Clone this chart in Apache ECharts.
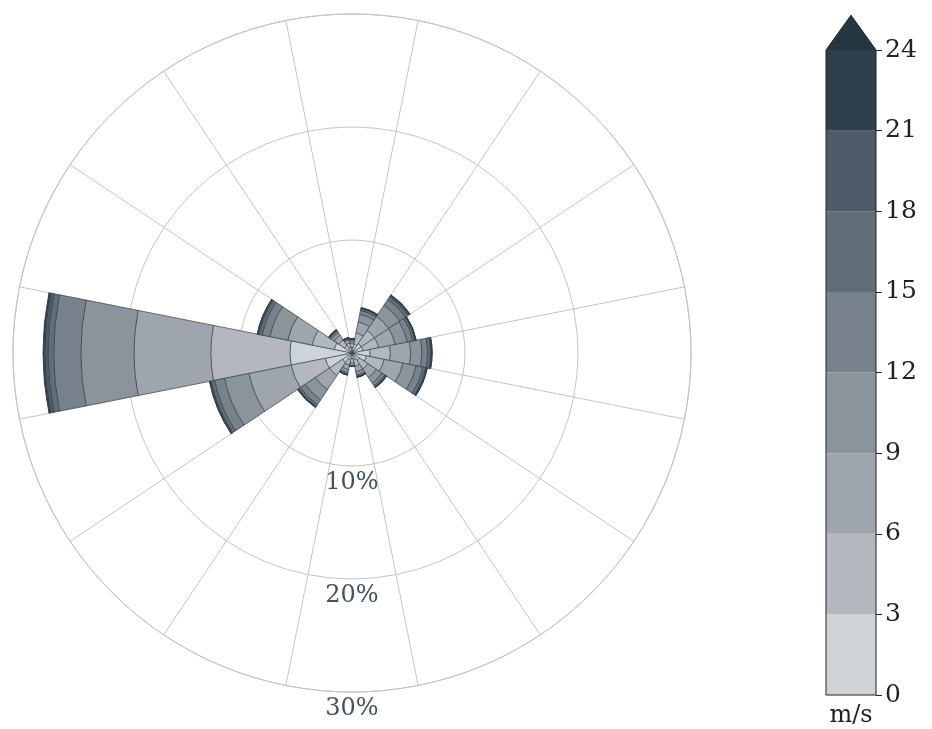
<!DOCTYPE html>
<html>
<head>
<meta charset="utf-8">
<script src="https://cdn.jsdelivr.net/npm/echarts@6/dist/echarts.min.js"></script>
<style>
  html, body { margin: 0; padding: 0; background: #ffffff; }
  #chart { width: 932px; height: 729px; }
</style>
</head>
<body>
<div id="chart"></div>
<script>
// ---------- DATA ----------
const directions = ['N','NNE','NE','ENE','E','ESE','SE','SSE','S','SSW','SW','WSW','W','WNW','NW','NNW'];
const speedBins = ['0-3','3-6','6-9','9-12','12-15','15-18','18-21','21-24','>24'];
const binEdges = [0, 3, 6, 9, 12, 15, 18, 21, 24];
const radiusTicks = [10, 20, 30];

// frequency (%) per direction, one array per speed bin
const bin0_3   = [0.5, 0.8, 1.0, 1.0, 1.6, 1.3, 0.8, 0.6, 0.5, 0.6, 1.0, 2.4, 5.5, 1.6, 0.8, 0.5];
const bin3_6   = [0.4, 1.0, 1.4, 1.4, 1.8, 1.6, 0.9, 0.6, 0.4, 0.5, 1.4, 3.1, 7.0, 2.0, 0.6, 0.4];
const bin6_9   = [0.2, 1.0, 1.5, 1.5, 1.8, 1.7, 0.9, 0.5, 0.2, 0.4, 1.5, 3.8, 6.8, 2.2, 0.5, 0.3];
const bin9_12  = [0.1, 0.7, 1.2, 1.1, 1.0, 1.2, 0.6, 0.3, 0.1, 0.3, 1.1, 2.2, 4.7, 1.6, 0.3, 0.1];
const bin12_15 = [0.05, 0.35, 0.6, 0.5, 0.5, 0.6, 0.3, 0.12, 0.0, 0.12, 0.5, 0.9, 2.4, 0.7, 0.15, 0.05];
const bin15_18 = [0.03, 0.15, 0.3, 0.2, 0.25, 0.25, 0.12, 0.05, 0.0, 0.05, 0.2, 0.3, 0.5, 0.3, 0.08, 0.03];
const bin18_21 = [0.01, 0.06, 0.12, 0.06, 0.1, 0.1, 0.05, 0.02, 0.0, 0.02, 0.07, 0.1, 0.3, 0.1, 0.04, 0.01];
const bin21_24 = [0.0, 0.03, 0.05, 0.03, 0.04, 0.04, 0.02, 0.01, 0.0, 0.01, 0.03, 0.05, 0.1, 0.04, 0.02, 0.01];
const bin24up  = [0.0, 0.01, 0.03, 0.01, 0.01, 0.01, 0.01, 0.0, 0.0, 0.0, 0.01, 0.02, 0.05, 0.02, 0.01, 0.0];
const binValues = [bin0_3, bin3_6, bin6_9, bin9_12, bin12_15, bin15_18, bin18_21, bin21_24, bin24up];

// ---------- STYLE ----------
const binColors = ['#ced3d7','#b2b8be','#9ea5ac','#8b939b','#77828c','#606e7a','#4d5b68','#2f3f4b','#263640'];
const gridColor = '#c4c4c4';
const serif = "'DejaVu Serif', serif";
const center = [352, 353];
const R = 339;

const chart = echarts.init(document.getElementById('chart'), null, { renderer: 'canvas' });

const series = [];
// wind rose stacked bars
binValues.forEach((vals, i) => {
  series.push({
    name: speedBins[i],
    type: 'bar',
    coordinateSystem: 'polar',
    polarIndex: 0,
    stack: 'rose',
    data: vals,
    barCategoryGap: '0%',
    itemStyle: { color: binColors[i], borderColor: 'rgba(45,58,68,0.75)', borderWidth: 0.8 },
    emphasis: { disabled: true },
    silent: true
  });
});

// colorbar segments
for (let i = 0; i < binEdges.length - 1; i++) {
  series.push({
    name: 'cb' + i,
    type: 'bar',
    xAxisIndex: 0, yAxisIndex: 0,
    stack: 'cbar',
    barWidth: '100%',
    data: [binEdges[i + 1] - binEdges[i]],
    itemStyle: { color: binColors[i] },
    silent: true
  });
}
// colorbar extend arrow + outline
const cbTop = binEdges[binEdges.length - 1];
const extendFrac = 0.054;
series.push({
  type: 'custom',
  xAxisIndex: 0, yAxisIndex: 0,
  clip: false,
  silent: true,
  z: 5,
  data: [[0, cbTop]],
  renderItem: function (params, api) {
    const bottom = api.coord([0, binEdges[0]]);
    const top = api.coord([0, api.value(1)]);
    const tip = api.coord([0, api.value(1) + extendFrac * (cbTop - binEdges[0])]);
    const w = api.size([1, 0])[0];
    const xl = bottom[0] - w / 2, xr = bottom[0] + w / 2;
    return {
      type: 'group',
      children: [
        { type: 'polygon', shape: { points: [[xl, top[1]], [xr, top[1]], [tip[0], tip[1]]] },
          style: { fill: binColors[binColors.length - 1] } },
        { type: 'polygon', shape: { points: [[xl, bottom[1]], [xr, bottom[1]], [xr, top[1]], [tip[0], tip[1]], [xl, top[1]]] },
          style: { fill: null, stroke: '#222', lineWidth: 1 } }
      ]
    };
  }
});

const option = {
  backgroundColor: '#ffffff',
  animation: false,
  polar: [
    { center: center, radius: R },
    { center: center, radius: R }
  ],
  angleAxis: [
    {
      polarIndex: 0,
      type: 'category',
      data: directions,
      startAngle: 90 + 360 / directions.length / 2,
      clockwise: true,
      boundaryGap: true,
      axisLine: { show: true, lineStyle: { color: gridColor, width: 1 } },
      axisTick: { show: false },
      axisLabel: { show: false },
      splitLine: { show: true, lineStyle: { color: gridColor, width: 1 } },
      z: 0
    },
    {
      polarIndex: 1,
      type: 'value',
      min: 0, max: 360,
      startAngle: -90,
      axisLine: { show: false },
      axisTick: { show: false },
      axisLabel: { show: false },
      splitLine: { show: false }
    }
  ],
  radiusAxis: [
    {
      polarIndex: 0,
      min: 0, max: radiusTicks[radiusTicks.length - 1], interval: radiusTicks[0],
      axisLine: { show: false },
      axisTick: { show: false },
      axisLabel: { show: false },
      splitLine: { show: true, lineStyle: { color: gridColor, width: 1 } },
      z: 0
    },
    {
      polarIndex: 1,
      min: 0, max: radiusTicks[radiusTicks.length - 1], interval: radiusTicks[0],
      axisLine: { show: false },
      axisTick: { show: false },
      splitLine: { show: false },
      axisLabel: {
        show: true,
        showMinLabel: false,
        formatter: '{value}%',
        fontFamily: serif,
        fontSize: 24,
        color: '#415261',
        align: 'center',
        verticalAlign: 'top',
        padding: [5, 0, 0, 0],
        margin: 0
      },
      z: 5
    }
  ],
  grid: { left: 826, top: 50, width: 50, height: 645, show: false, containLabel: false, outerBoundsMode: 'none' },
  xAxis: {
    type: 'category',
    data: [''],
    axisLine: { show: false },
    axisTick: { show: false },
    axisLabel: { show: false },
    name: 'm/s',
    nameLocation: 'middle',
    nameGap: 9,
    nameTextStyle: { fontFamily: serif, fontSize: 24, color: '#222' }
  },
  yAxis: {
    type: 'value',
    position: 'right',
    min: binEdges[0], max: cbTop, interval: binEdges[1] - binEdges[0],
    axisLine: { show: false },
    axisTick: { show: true, length: 6, lineStyle: { color: '#222', width: 1 } },
    axisLabel: { fontFamily: serif, fontSize: 25, color: '#222', margin: 9 },
    splitLine: { show: false }
  },
  series: series
};
chart.setOption(option);
</script>
</body>
</html>
